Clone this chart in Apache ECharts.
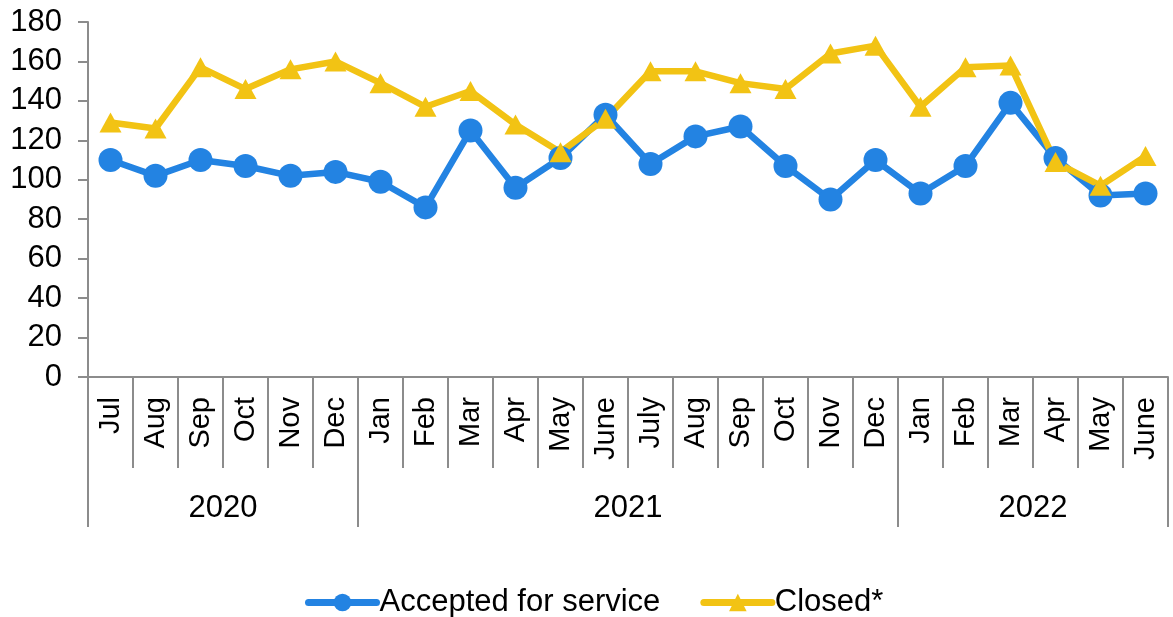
<!DOCTYPE html>
<html>
<head>
<meta charset="utf-8">
<title>Accepted for service / Closed</title>
<script src="https://cdn.jsdelivr.net/npm/echarts@6/dist/echarts.min.js"></script>
<style>
    html, body { margin: 0; padding: 0; background: #fff; }
    #myChart { width: 1173px; height: 617px; }
</style>
</head>
<body>
<div id="myChart"></div>
<script>
    var months = ['Jul', 'Aug', 'Sep', 'Oct', 'Nov', 'Dec',
        'Jan', 'Feb', 'Mar', 'Apr', 'May', 'June', 'July', 'Aug', 'Sep', 'Oct', 'Nov', 'Dec',
        'Jan', 'Feb', 'Mar', 'Apr', 'May', 'June'];
    var years = ['2020', '2021', '2022'];
    var yearSpans = [6, 12, 6]; // months in each year group
    var acceptedData = [110, 102, 110, 107, 102, 104, 99, 86, 125, 96, 111, 133,
        108, 122, 127, 107, 90, 110, 93, 107, 139, 111, 92, 93];
    // note: not called "closed", window.closed is read-only
    var closedData = [129, 126, 157, 146, 156, 160, 149, 137, 145, 128, 114, 131,
        155, 155, 149, 146, 164, 168, 137, 157, 158, 109, 97, 112];
    var yTicks = [0, 20, 40, 60, 80, 100, 120, 140, 160, 180];

    var axisGrey = '#8c8c8c';
    var font = '"Liberation Sans", Arial, sans-serif';

    // second axis runs on month boundaries (0..24): year labels in the middle, ticks at the edges
    var yearAxisData = [];
    var yearBounds = {0: true};
    var pos = 0;
    for (var i = 0; i <= months.length; i++) {
        yearAxisData.push('');
    }
    for (var j = 0; j < years.length; j++) {
        yearAxisData[pos + yearSpans[j] / 2] = years[j];
        pos += yearSpans[j];
        yearBounds[pos] = true;
    }

    var myChart = echarts.init(document.getElementById('myChart'));
    var option = {
        animation: false,
        textStyle: { fontFamily: font },
        grid: {
            left: 88,
            right: 5,
            top: 22,
            bottom: 240,
            containLabel: false,
            outerBoundsMode: 'none'
        },
        legend: {
            data: ['Accepted for service', 'Closed*'],
            left: 300,
            top: 582,
            itemWidth: 68,
            itemHeight: 22,
            itemGap: 40,
            lineStyle: { width: 7, cap: 'round' },
            textStyle: { fontSize: 31, color: '#000', fontFamily: font, padding: [0, 0, 0, -2] }
        },
        xAxis: [{
            type: 'category',
            data: months,
            boundaryGap: true,
            axisLine: { lineStyle: { color: axisGrey, width: 2 } },
            axisTick: { show: true, interval: 0, length: 91, lineStyle: { color: axisGrey, width: 2 } },
            axisLabel: {
                interval: 0,
                rotate: 90,
                margin: 20,
                fontSize: 29,
                color: '#000',
                fontFamily: font
            },
            splitLine: { show: false }
        }, {
            type: 'category',
            position: 'bottom',
            offset: 91,
            data: yearAxisData,
            boundaryGap: false,
            axisLine: { show: false },
            axisTick: {
                show: true,
                length: 59,
                interval: function (index) {
                    return !!yearBounds[index];
                },
                lineStyle: { color: axisGrey, width: 2 }
            },
            axisLabel: {
                interval: 0,
                margin: 25,
                fontSize: 31,
                color: '#000',
                fontFamily: font
            },
            splitLine: { show: false }
        }],
        yAxis: {
            type: 'value',
            min: yTicks[0],
            max: yTicks[yTicks.length - 1],
            interval: yTicks[1] - yTicks[0],
            axisLine: { show: true, lineStyle: { color: axisGrey, width: 2 } },
            axisTick: { show: true, length: 10, lineStyle: { color: axisGrey, width: 2 } },
            axisLabel: { margin: 26, fontSize: 31, color: '#000', fontFamily: font },
            splitLine: { show: false }
        },
        series: [{
            name: 'Accepted for service',
            type: 'line',
            data: acceptedData,
            symbol: 'circle',
            symbolSize: 24,
            itemStyle: { color: '#2383e2' },
            lineStyle: { color: '#2383e2', width: 6.5 }
        }, {
            name: 'Closed*',
            type: 'line',
            data: closedData,
            symbol: 'triangle',
            symbolSize: [22, 20],
            itemStyle: { color: '#f2c314' },
            lineStyle: { color: '#f2c314', width: 6.5 }
        }]
    };
    myChart.setOption(option);
</script>
</body>
</html>
